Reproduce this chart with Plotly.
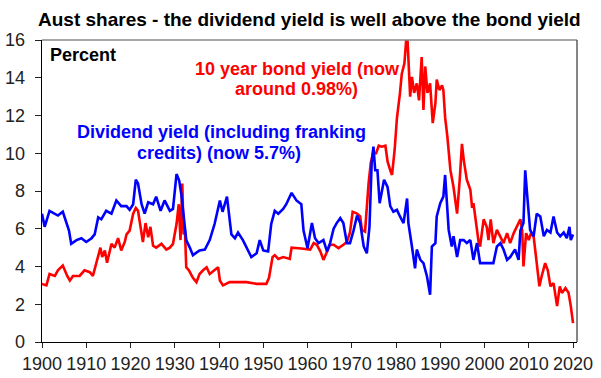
import plotly.graph_objects as go

# Dividend yield (including franking credits), percent
div_years = [1900.0, 1900.6, 1901.7, 1902.9, 1903.6, 1904.7, 1905.4, 1906.1, 1906.6, 1907.8,
             1908.9, 1910.0, 1911.2, 1911.9, 1912.7, 1913.4, 1914.5, 1915.7, 1916.8, 1917.9,
             1919.1, 1919.8, 1920.6, 1921.2, 1921.7, 1922.5, 1923.2, 1924.0, 1925.1, 1925.8,
             1926.8, 1927.7, 1928.9, 1929.6, 1930.4, 1931.0, 1931.5, 1932.0, 1932.6, 1933.4,
             1934.1, 1935.6, 1936.8, 1937.9, 1939.0, 1940.2, 1940.8, 1941.8, 1942.8, 1943.6,
             1944.3, 1945.4, 1946.6, 1947.3, 1948.5, 1949.2, 1950.0, 1951.1, 1951.8, 1952.6,
             1953.4, 1954.5, 1955.2, 1956.4, 1957.5, 1958.6, 1959.1, 1960.0, 1961.0, 1961.7,
             1962.5, 1963.6, 1964.4, 1965.1, 1965.9, 1966.6, 1967.4, 1968.1, 1968.9, 1969.6,
             1970.4, 1971.2, 1971.9, 1972.7, 1973.4, 1974.0, 1974.5, 1974.9, 1975.3, 1975.8,
             1976.3, 1976.8, 1977.3, 1978.1, 1978.7, 1979.4, 1980.2, 1980.9, 1981.7, 1982.5,
             1982.8, 1983.6, 1984.3, 1984.7, 1985.5, 1986.2, 1987.0, 1987.7, 1988.1, 1988.9,
             1989.2, 1990.0, 1990.7, 1991.1, 1991.5, 1991.9, 1992.6, 1993.0, 1993.8, 1994.5,
             1995.3, 1996.0, 1996.8, 1997.5, 1998.3, 1999.0, 2000.5, 2002.0, 2002.8, 2003.6,
             2004.3, 2005.1, 2005.8, 2006.9, 2007.7, 2008.1, 2008.8, 2009.2, 2009.6, 2010.3,
             2011.1, 2011.8, 2012.6, 2013.4, 2014.1, 2014.9, 2015.6, 2016.4, 2017.1, 2017.9,
             2018.6, 2019.2, 2019.5, 2020.0]
div_values = [6.8, 6.1, 6.95, 6.8, 6.7, 6.9, 6.4, 5.9, 5.2, 5.4,
              5.5, 5.3, 5.5, 5.7, 6.6, 6.5, 6.95, 6.8, 7.5, 7.2,
              7.2, 7.0, 7.3, 8.6, 8.4, 7.3, 6.8, 7.4, 7.3, 7.7,
              6.95, 7.5, 6.95, 7.05, 8.9, 8.55, 7.8, 6.6, 5.4, 5.0,
              4.6, 4.85, 4.9, 5.4, 6.25, 7.5, 6.9, 7.7, 5.7, 5.5,
              5.8, 5.4, 4.85, 4.5, 4.7, 5.4, 4.85, 4.8, 6.25, 6.95,
              6.8, 7.05, 7.3, 7.9, 7.5, 7.3, 5.9, 4.97, 6.3, 5.5,
              5.24, 5.4, 4.8, 5.24, 6.0, 6.3, 6.56, 6.3, 5.24, 5.24,
              5.9, 6.7, 6.3, 5.06, 4.7, 6.1, 9.5, 10.35, 9.1, 9.1,
              7.35, 8.06, 8.6, 8.2, 7.2, 6.9, 7.0, 6.65, 6.3, 7.6,
              6.3, 5.06, 3.9, 4.9, 4.35, 4.18, 3.47, 2.5, 5.06, 5.24,
              6.65, 7.35, 7.7, 8.85, 7.35, 5.94, 5.06, 5.6, 4.5, 5.4,
              5.4, 5.24, 5.4, 4.35, 5.24, 4.18, 4.18, 4.18, 5.06, 5.24,
              4.9, 4.35, 4.5, 4.9, 4.35, 5.9, 6.3, 9.1, 7.9, 5.94,
              5.6, 6.8, 6.65, 5.6, 5.94, 5.8, 6.65, 5.8, 5.6, 5.8,
              5.5, 6.1, 5.4, 5.7]

# 10 year bond yield, percent
bond_years = [1900.0, 1901.0, 1901.7, 1902.9, 1903.6, 1904.7, 1905.7, 1906.3, 1907.0, 1908.5,
              1909.6, 1910.8, 1911.5, 1912.7, 1913.2, 1913.6, 1914.2, 1914.7, 1915.7, 1916.4,
              1917.2, 1917.9, 1918.7, 1919.1, 1919.8, 1920.6, 1921.2, 1921.7, 1922.3, 1922.8,
              1923.4, 1924.0, 1924.5, 1925.1, 1925.8, 1927.0, 1928.1, 1928.9, 1929.6, 1930.4,
              1930.9, 1931.3, 1931.7, 1932.0, 1932.3, 1932.6, 1933.2, 1934.1, 1934.9, 1935.6,
              1936.4, 1937.2, 1937.9, 1939.0, 1939.8, 1940.2, 1940.9, 1942.4, 1946.2, 1948.5,
              1950.7, 1951.3, 1952.1, 1952.6, 1953.4, 1954.5, 1956.0, 1956.4, 1957.5, 1958.6,
              1960.6, 1961.4, 1962.1, 1962.9, 1963.6, 1964.4, 1965.1, 1965.9, 1967.0, 1968.1,
              1968.9, 1969.6, 1970.2, 1971.2, 1971.9, 1972.3, 1973.0, 1973.8, 1974.3, 1974.8,
              1975.5, 1976.1, 1976.8, 1977.6, 1978.1, 1978.7, 1979.1, 1979.7, 1980.2, 1980.9,
              1981.3, 1981.9, 1982.3, 1982.6, 1982.9, 1983.2, 1983.6, 1984.1, 1984.7, 1985.2,
              1985.8, 1986.2, 1986.6, 1987.1, 1987.7, 1988.3, 1988.9, 1989.2, 1989.8, 1990.4,
              1990.7, 1991.1, 1991.6, 1992.3, 1993.0, 1993.8, 1994.4, 1994.9, 1995.3, 1996.0,
              1996.8, 1997.2, 1997.5, 1998.3, 1998.7, 1999.0, 1999.4, 1999.8, 2000.5, 2000.9,
              2001.4, 2002.0, 2002.8, 2003.6, 2004.3, 2005.1, 2005.8, 2006.6, 2007.3, 2008.1,
              2008.5, 2008.8, 2009.4, 2010.0, 2010.5, 2011.1, 2011.8, 2012.4, 2012.9, 2013.7,
              2014.3, 2014.9, 2015.6, 2016.4, 2017.0, 2017.5, 2018.3, 2019.0, 2019.5, 2020.0]
bond_values = [3.08, 3.0, 3.6, 3.5, 3.8, 4.05, 3.5, 3.26, 3.5, 3.5,
               3.8, 3.7, 3.5, 4.5, 5.0, 4.5, 4.85, 4.2, 5.2, 5.0,
               5.5, 4.85, 5.3, 5.7, 5.9, 6.8, 7.1, 6.95, 6.1, 5.3,
               6.3, 5.55, 6.1, 5.1, 5.0, 5.2, 4.9, 5.0, 5.2, 6.25,
               7.3, 5.4, 8.4, 5.7, 5.9, 3.96, 3.8, 3.4, 3.17, 3.6,
               3.8, 3.96, 3.6, 3.8, 3.96, 3.26, 3.0, 3.17, 3.17, 3.08,
               3.08, 3.4, 4.5, 4.6, 4.4, 4.5, 4.4, 5.0, 4.99, 4.95,
               4.9, 5.24, 5.15, 4.8, 4.35, 4.8, 5.15, 5.15, 4.97, 5.15,
               5.3, 5.8, 6.9, 6.8, 6.65, 5.94, 5.85, 8.4, 9.5, 10.0,
               10.0, 10.4, 10.35, 10.4, 9.55, 9.1, 8.85, 10.2, 11.85, 13.2,
               14.2, 14.76, 16.0, 16.0, 14.8, 13.0, 14.05, 13.2, 13.7, 12.8,
               15.1, 12.3, 14.6, 13.2, 13.7, 11.6, 12.65, 13.9, 13.35, 13.6,
               13.35, 11.9, 10.9, 9.1, 8.2, 6.8, 8.6, 10.5, 9.65, 8.6,
               8.06, 7.1, 7.35, 6.1, 5.24, 5.06, 5.94, 6.5, 6.1, 5.4,
               6.5, 5.24, 5.94, 5.6, 5.24, 5.77, 5.24, 5.77, 6.1, 6.5,
               5.94, 4.0, 5.77, 5.4, 5.77, 5.6, 4.18, 2.95, 3.47, 4.18,
               3.8, 2.95, 3.12, 1.9, 2.95, 2.6, 2.86, 2.6, 1.9, 1.0]

x_ticks = [1900, 1910, 1920, 1930, 1940, 1950, 1960, 1970, 1980, 1990, 2000, 2010, 2020]
y_ticks = [0, 2, 4, 6, 8, 10, 12, 14, 16]

title_text = "Aust shares - the dividend yield is well above the bond yield"
FONT = "Arial, Liberation Sans, sans-serif"

fig = go.Figure()
fig.add_trace(go.Scatter(x=bond_years, y=bond_values, mode="lines",
                         line=dict(color="#FF0000", width=2.6), showlegend=False,
                         hoverinfo="skip"))
fig.add_trace(go.Scatter(x=div_years, y=div_values, mode="lines",
                         line=dict(color="#0000FF", width=2.6), showlegend=False,
                         hoverinfo="skip"))

fig.update_layout(
    width=601, height=378,
    margin=dict(l=42, r=24, t=40, b=36, autoexpand=False),
    paper_bgcolor="white", plot_bgcolor="white",
    font=dict(family=FONT, color="#222222"),
    xaxis=dict(range=[1900, 2020.9], tickvals=x_ticks, ticks="outside", ticklen=5,
               tickcolor="#222", showline=True, linecolor="black", linewidth=1.3,
               showgrid=False, zeroline=False, tickfont=dict(size=18, color="#222"),
               automargin=False),
    yaxis=dict(range=[0, 16], tickvals=y_ticks, ticks="outside", ticklen=6,
               tickcolor="#222", showline=True, linecolor="black", linewidth=1.3,
               showgrid=False, zeroline=False, tickfont=dict(size=18, color="#222"),
               ticklabelstandoff=6, automargin=False),
    shapes=[
        dict(type="line", xref="paper", yref="paper", x0=0, x1=1, y0=1, y1=1,
             line=dict(color="#888888", width=1.3)),
        dict(type="line", xref="paper", yref="paper", x0=1, x1=1, y0=0, y1=1,
             line=dict(color="#444444", width=1.3)),
    ],
    annotations=[
        dict(x=0.5004, y=1.0695, xref="paper", yref="paper", text="<b>" + title_text + "</b>",
             showarrow=False, xanchor="center", yanchor="middle",
             font=dict(size=19, color="black", family=FONT)),
        dict(x=1901.3, y=15.23, text="<b>Percent</b>", showarrow=False, xanchor="left",
             yanchor="middle", font=dict(size=18, color="black", family=FONT)),
        dict(x=1957.67, y=14.46, text="<b>10 year bond yield (now</b>", showarrow=False,
             xanchor="center", yanchor="middle", font=dict(size=18, color="#FF0000", family=FONT)),
        dict(x=1957.6, y=13.40, text="<b>around 0.98%)</b>", showarrow=False,
             xanchor="center", yanchor="middle", font=dict(size=18, color="#FF0000", family=FONT)),
        dict(x=1940.56, y=11.10, text="<b>Dividend yield (including franking</b>", showarrow=False,
             xanchor="center", yanchor="middle", font=dict(size=18, color="#0000FF", family=FONT)),
        dict(x=1939.93, y=9.99, text="<b>credits) (now 5.7%)</b>", showarrow=False,
             xanchor="center", yanchor="middle", font=dict(size=18, color="#0000FF", family=FONT)),
    ],
)

fig.write_html(
    "out.html",
    config={"displayModeBar": False, "staticPlot": True},
    post_script="document.body.style.margin='0';document.body.style.padding='0';"
                "document.body.style.overflow='hidden';",
)
